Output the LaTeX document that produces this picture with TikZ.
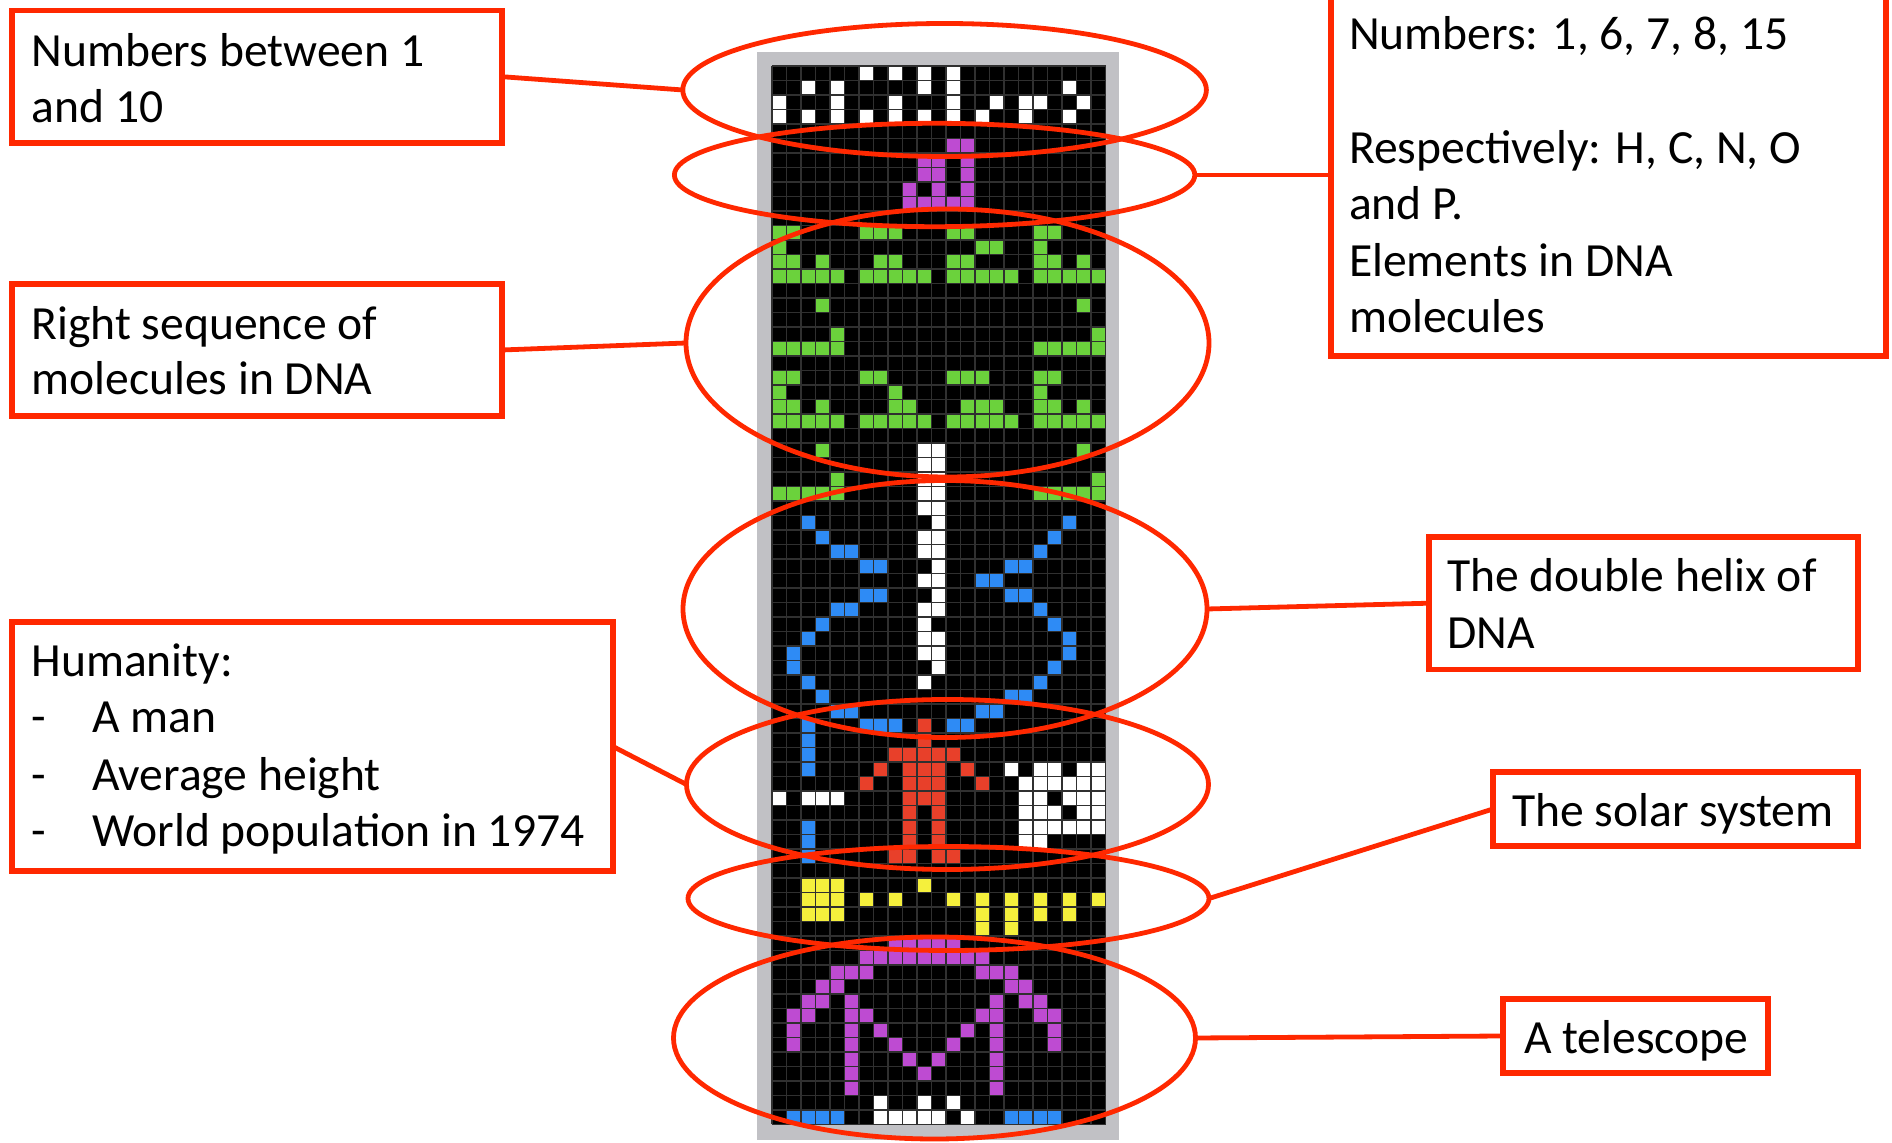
\documentclass[tikz,border=0pt]{standalone}
\usepackage{fontspec}
\setmainfont{Carlito}
\usetikzlibrary{shapes.geometric}

\definecolor{callout}{RGB}{255,40,0}
\definecolor{framegray}{RGB}{193,193,197}
\definecolor{gridgray}{RGB}{48,48,48}
\definecolor{msgwhite}{RGB}{255,255,255}
\definecolor{msgpurple}{RGB}{190,75,210}
\definecolor{msggreen}{RGB}{107,210,60}
\definecolor{msgblue}{RGB}{46,139,245}
\definecolor{msgred}{RGB}{232,64,42}
\definecolor{msgyellow}{RGB}{245,240,60}

\tikzset{
  cell1/.style={fill=msgwhite},
  cell2/.style={fill=msgpurple},
  cell3/.style={fill=msggreen},
  cell4/.style={fill=msgblue},
  cell5/.style={fill=msgred},
  cell6/.style={fill=msgyellow},
  gridline/.style={draw=gridgray, line width=0.55pt},
  ring/.style={ellipse, draw=callout, line width=2.4pt, inner sep=0pt, outer sep=0pt},
  callbox/.style={rectangle, draw=callout, line width=2.8pt, inner sep=0pt, outer sep=0pt},
  conn/.style={draw=callout, line width=2.4pt},
  txt/.style={inner sep=0pt, outer sep=0pt, anchor=base west, font=\fontsize{23.8pt}{28pt}\selectfont}
}

% one row of the 23-column message, one digit per cell (0 = empty)
\newcount\msgcol
\newcount\msgrow
\def\msgcells#1{\msgcol=0 \msgcell#1\relax\advance\msgrow by 1 }
\def\msgcell#1{%
  \ifx#1\relax\else
    \ifnum#1>0
      \fill[cell#1] ({772+14.5*\the\msgcol},{66+14.5*\the\msgrow}) rectangle ++(14.5,14.5);%
    \fi
    \advance\msgcol by 1
    \expandafter\msgcell
  \fi}

\begin{document}
\begin{tikzpicture}[x=0.5pt,y=-0.5pt]
\useasboundingbox (0,0) rectangle (1892,1143);

% frame and black field of the message
\fill[framegray] (757,52) rectangle (1119,1140);
\fill[black] (772,66) rectangle (1105.5,1124.5);

\msgrow=0
\msgcells{00000010101010000000000}
\msgcells{00101000001010000000100}
\msgcells{10001000100010010110010}
\msgcells{10101010101010100100100}
\msgcells{00000000000000000000000}
\msgcells{00000000000022000000000}
\msgcells{00000000002202000000000}
\msgcells{00000000002202000000000}
\msgcells{00000000020202000000000}
\msgcells{00000000022222000000000}
\msgcells{00000000000000000000000}
\msgcells{33000033300033000033000}
\msgcells{30000000000000330030000}
\msgcells{33030003300033000033030}
\msgcells{33333033333033333033333}
\msgcells{00000000000000000000000}
\msgcells{00030000000000000000030}
\msgcells{00000000000000000000000}
\msgcells{00003000000000000000003}
\msgcells{33333000000000000033333}
\msgcells{00000000000000000000000}
\msgcells{33000033000033300033000}
\msgcells{30000000300000000030000}
\msgcells{33030000330003330033030}
\msgcells{33333033333033333033333}
\msgcells{00000000000000000000000}
\msgcells{00030000001100000000030}
\msgcells{00000000001100000000000}
\msgcells{00003000001100000000003}
\msgcells{33333000001100000033333}
\msgcells{00000000001100000000000}
\msgcells{00400000000100000000400}
\msgcells{00040000001100000004000}
\msgcells{00004400001100000040000}
\msgcells{00000044000100004400000}
\msgcells{00000000001100440000000}
\msgcells{00000044000100004400000}
\msgcells{00004400001100000040000}
\msgcells{00040000001000000004000}
\msgcells{00400000001100000000400}
\msgcells{04000000001100000000400}
\msgcells{04000000000100000004000}
\msgcells{00400000001000000040000}
\msgcells{00040000000000004400000}
\msgcells{00004400000000440000000}
\msgcells{00400044405044000000000}
\msgcells{00400000005000000000000}
\msgcells{00400000555550000000000}
\msgcells{00400005055505001011011}
\msgcells{00000050055500500111111}
\msgcells{10111000055500000110111}
\msgcells{00000000050500000111011}
\msgcells{00400000050500000111111}
\msgcells{00400000050500000110000}
\msgcells{00400000550550000000000}
\msgcells{00000000000000000000000}
\msgcells{00666000006000000000000}
\msgcells{00666060600060606060606}
\msgcells{00666000000000606060600}
\msgcells{00000000000000606000000}
\msgcells{00000000222220000000000}
\msgcells{00000022222222200000000}
\msgcells{00002220000000222000000}
\msgcells{00022000000000002200000}
\msgcells{00220200000000020220000}
\msgcells{02200220000000220022000}
\msgcells{02000202000002020002000}
\msgcells{02000200200020020002000}
\msgcells{00000200020200020000000}
\msgcells{00000200002000020000000}
\msgcells{00000200000000020000000}
\msgcells{00000001001010000000000}
\msgcells{04444001111101004444000}

% cell grid
\foreach \i in {0,...,23}
  \draw[gridline] ({772+14.5*\i},66) -- ({772+14.5*\i},1124.5);
\foreach \j in {0,...,73}
  \draw[gridline] (772,{66+14.5*\j}) -- (1105.5,{66+14.5*\j});

% highlighted regions
\node[ring, minimum width=261.8pt, minimum height=66.5pt] (e1) at (944.6,90) {};
\node[ring, minimum width=260.2pt, minimum height=51.7pt] (e2) at (934.6,175) {};
\node[ring, minimum width=261.5pt, minimum height=134pt] (e3) at (947.5,343) {};
\node[ring, minimum width=262pt, minimum height=128.5pt] (e4) at (945,609) {};
\node[ring, minimum width=261pt, minimum height=85pt] (e5) at (947.5,784.5) {};
\node[ring, minimum width=260.5pt, minimum height=52pt] (e6) at (948.5,898.5) {};
\node[ring, minimum width=261pt, minimum height=101pt] (e7) at (934.5,1038) {};

% label boxes
\node[callbox, minimum width=245pt, minimum height=66.2pt] (b1) at (257,76.7) {};
\node[callbox, minimum width=245pt, minimum height=66pt] (b2) at (257,350) {};
\node[callbox, minimum width=300.5pt, minimum height=124.5pt] (b3) at (312.5,746.5) {};
\node[callbox, minimum width=277.5pt, minimum height=181pt] (b4) at (1608.5,175) {};
\node[callbox, minimum width=214.5pt, minimum height=66.2pt] (b5) at (1643.5,603.2) {};
\node[callbox, minimum width=182.5pt, minimum height=37pt] (b6) at (1675.5,809) {};
\node[callbox, minimum width=132.5pt, minimum height=37pt] (b7) at (1635.5,1036) {};

% leaders
\draw[conn] (b1.east) -- (e1.west);
\draw[conn] (e2.east) -- (b4.west);
\draw[conn] (b2.east) -- (e3.west);
\draw[conn] (e4.east) -- (b5.west);
\draw[conn] (b3.east) -- (e5.west);
\draw[conn] (e6.east) -- (b6.west);
\draw[conn] (e7.east) -- (b7.west);

% texts
\node[txt] (t1a) at (31.5,66.7) {Numbers between 1};
\node[txt] (t1b) at (31.5,122.7) {and 10};
\node[txt] (t2a) at (31.5,340) {Right sequence of};
\node[txt] (t2b) at (31.5,395) {molecules in DNA};
\node[txt] (t3a) at (31.5,677) {Humanity:};
\node[txt] (t3b) at (31.5,733) {-};
\node[txt] (t3c) at (92,733) {A man};
\node[txt] (t3d) at (31.5,791) {-};
\node[txt] (t3e) at (92,791) {Average height};
\node[txt] (t3f) at (31.5,847) {-};
\node[txt] (t3g) at (92,847) {World population in 1974};
\node[txt] (t4a) at (1349,50) {Numbers: 1, 6, 7, 8, 15};
\node[txt] (t4b) at (1349,163.5) {Respectively: H, C, N, O};
\node[txt] (t4c) at (1349,220) {and P.};
\node[txt] (t4d) at (1349,276.5) {Elements in DNA};
\node[txt] (t4e) at (1349,333) {molecules};
\node[txt] (t5a) at (1447,591.7) {The double helix of};
\node[txt] (t5b) at (1447,648.3) {DNA};
\node[txt] (t6) at (1512,826.7) {The solar system};
\node[txt] (t7) at (1524,1053.3) {A telescope};
\end{tikzpicture}
\end{document}
